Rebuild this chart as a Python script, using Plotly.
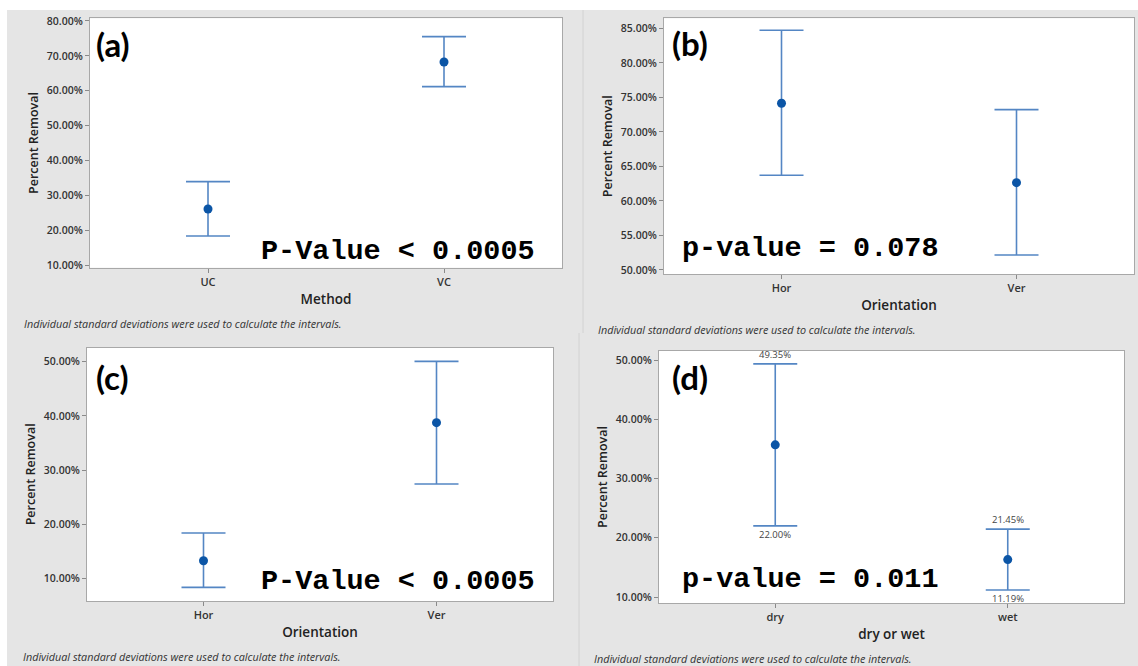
import plotly.graph_objects as go

W, H = 1138, 666

# ---------------- data ----------------
a_cats = ["UC", "VC"]
a_mean = [26.07, 68.24]
a_upper = [33.91, 75.51]
a_lower = [18.32, 61.16]
a_ticks = [10, 20, 30, 40, 50, 60, 70, 80]

b_cats = ["Hor", "Ver"]
b_mean = [74.14, 62.65]
b_upper = [84.71, 73.22]
b_lower = [63.71, 52.17]
b_ticks = [50, 55, 60, 65, 70, 75, 80, 85]

c_cats = ["Hor", "Ver"]
c_mean = [13.26, 38.74]
c_upper = [18.37, 50.06]
c_lower = [8.34, 27.42]
c_ticks = [10, 20, 30, 40, 50]

d_cats = ["dry", "wet"]
d_mean = [35.68, 16.32]
d_upper = [49.35, 21.45]
d_lower = [22.00, 11.19]
d_ticks = [10, 20, 30, 40, 50]

panel_letters = ["(a)", "(b)", "(c)", "(d)"]
x_titles = ["Method", "Orientation", "Orientation", "dry or wet"]
y_title = "Percent Removal"
p_texts = ["P-Value < 0.0005", "p-value = 0.078", "P-Value < 0.0005", "p-value = 0.011"]
footnote = "Individual standard deviations were used to calculate the intervals."

# ---------------- layout geometry (pixels) ----------------
panels = [
    dict(cats=a_cats, mean=a_mean, up=a_upper, lo=a_lower, ticks=a_ticks,
         box=(90, 562, 18.3, 267.7), yr=(9.23, 80.77),
         bg=(7, 583, 10, 333), lab=(94, 44), ptxt=(259, 251), foot=(22, 323)),
    dict(cats=b_cats, mean=b_mean, up=b_upper, lo=b_lower, ticks=b_ticks,
         box=(664, 1134, 18.3, 274), yr=(49.42, 86.45),
         bg=(583, 1138, 10, 333), lab=(670, 43), ptxt=(680, 248), foot=(596, 329)),
    dict(cats=c_cats, mean=c_mean, up=c_upper, lo=c_lower, ticks=c_ticks,
         box=(87, 553, 347.7, 601), yr=(5.82, 52.58),
         bg=(7, 579, 333, 666), lab=(94, 377), ptxt=(259, 581), foot=(21, 656)),
    dict(cats=d_cats, mean=d_mean, up=d_upper, lo=d_lower, ticks=d_ticks,
         box=(659, 1124, 351, 603), yr=(8.99, 51.52),
         bg=(579, 1138, 333, 666), lab=(670, 377), ptxt=(680, 579), foot=(592, 658)),
]

GRAY = "#e5e5e5"
MARK = "#0b55a6"
BAR = "#5486c4"

fig = go.Figure()
shapes = []
annotations = []
layout = {}

for i, p in enumerate(panels):
    n = "" if i == 0 else str(i + 1)
    x0, x1, y0, y1 = p["box"]
    err_up = [u - m for u, m in zip(p["up"], p["mean"])]
    err_lo = [m - l for m, l in zip(p["mean"], p["lo"])]
    fig.add_trace(go.Scatter(
        x=p["cats"], y=p["mean"], mode="markers",
        marker=dict(size=9, color=MARK),
        error_y=dict(type="data", symmetric=False, array=err_up, arrayminus=err_lo,
                     width=22, thickness=1.6, color=BAR),
        xaxis="x" + n, yaxis="y" + n, showlegend=False,
        hovertemplate="%{x}: %{y:.2f}%<extra></extra>"))

    layout["xaxis" + n] = dict(
        domain=[x0 / W, x1 / W], anchor="y" + n, type="category",
        range=[-0.5, 1.5], showline=True, mirror=True, linecolor="#a8a8a8",
        linewidth=1.2, ticks="outside", ticklen=4, tickcolor="#8a8a8a",
        showgrid=False, zeroline=False,
        tickfont=dict(family="Open Sans", size=11, color="#333333", weight=600),
        title=dict(text=x_titles[i], standoff=6,
                   font=dict(family="Open Sans", size=13.5, color="#222222", weight=600)),
        automargin=False, fixedrange=True)
    layout["yaxis" + n] = dict(
        domain=[1 - y1 / H, 1 - y0 / H], anchor="x" + n, range=list(p["yr"]),
        tickvals=p["ticks"], ticktext=[f"{v:.2f}%" for v in p["ticks"]],
        showline=True, mirror=True, linecolor="#a8a8a8", linewidth=1.2,
        ticks="outside", ticklen=4, tickcolor="#8a8a8a", showgrid=False,
        zeroline=False,
        tickfont=dict(family="Open Sans", size=10.5, color="#333333", weight=600),
        title=dict(text=y_title, standoff=5,
                   font=dict(family="Open Sans", size=12.5, color="#222222", weight=600)),
        automargin=False, fixedrange=True)

    # gray panel background
    bx0, bx1, by0, by1 = p["bg"]
    shapes.append(dict(type="rect", xref="paper", yref="paper", layer="below",
                       x0=bx0 / W, x1=bx1 / W, y0=1 - by1 / H, y1=1 - by0 / H,
                       fillcolor=GRAY, line=dict(width=0)))

    # panel letter
    lx, ly = p["lab"]
    annotations.append(dict(text="<b>" + panel_letters[i] + "</b>", xref="paper", yref="paper",
                            x=lx / W, y=1 - ly / H, xanchor="left", yanchor="middle",
                            showarrow=False, font=dict(family="Lato", size=33, color="#000000")))
    # p-value
    px, py = p["ptxt"]
    annotations.append(dict(text="<b>" + p_texts[i] + "</b>", xref="paper", yref="paper",
                            x=px / W, y=1 - py / H, xanchor="left", yanchor="middle",
                            showarrow=False,
                            font=dict(family="Liberation Mono", size=28.5, color="#000000")))
    # footnote
    fx, fy = p["foot"]
    annotations.append(dict(text="<i>" + footnote + "</i>", xref="paper", yref="paper",
                            x=fx / W, y=1 - fy / H, xanchor="left", yanchor="middle",
                            showarrow=False,
                            font=dict(family="Open Sans", size=10.8, color="#333333")))

# white plot areas drawn over the gray panel backgrounds
for p in panels:
    x0, x1, y0, y1 = p["box"]
    shapes.append(dict(type="rect", xref="paper", yref="paper", layer="below",
                       x0=x0 / W, x1=x1 / W, y0=1 - y1 / H, y1=1 - y0 / H,
                       fillcolor="#ffffff", line=dict(width=0)))

# interval value labels in panel (d)
for c, u, l in zip(d_cats, d_upper, d_lower):
    annotations.append(dict(text=f"{u:.2f}%", x=c, y=u, xref="x4", yref="y4",
                            yanchor="bottom", yshift=1, showarrow=False,
                            font=dict(family="Open Sans", size=9.5, color="#444444")))
    annotations.append(dict(text=f"{l:.2f}%", x=c, y=l, xref="x4", yref="y4",
                            yanchor="top", yshift=0, showarrow=False,
                            font=dict(family="Open Sans", size=9.5, color="#444444")))

# thin panel dividers
for (xx, ya, yb) in [(583, 10, 333), (579, 333, 666)]:
    shapes.append(dict(type="line", xref="paper", yref="paper", layer="below",
                       x0=xx / W, x1=xx / W, y0=1 - yb / H, y1=1 - ya / H,
                       line=dict(color="#d2d2d2", width=1)))

fig.update_layout(
    width=W, height=H, margin=dict(l=0, r=0, t=0, b=0),
    paper_bgcolor="#ffffff", plot_bgcolor="#ffffff",
    shapes=shapes, annotations=annotations, showlegend=False,
    **layout)

fig.write_html("out.html",
               config={"displayModeBar": False},
               post_script="document.body.style.margin='0';document.body.style.padding='0';document.body.style.overflow='hidden';")
